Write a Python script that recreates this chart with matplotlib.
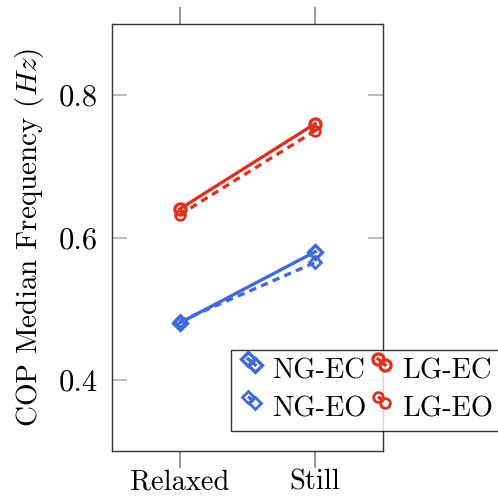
import matplotlib
matplotlib.use("Agg")
import matplotlib.pyplot as plt
from matplotlib.legend_handler import HandlerLine2D
import numpy as np

categories = ["Relaxed", "Still"]
ng_ec = [0.48, 0.58]
ng_eo = [0.482, 0.565]
lg_ec = [0.64, 0.76]
lg_eo = [0.632, 0.75]
yticks = [0.4, 0.6, 0.8]

plt.rcParams['font.family'] = ['cmr10', 'DejaVu Serif']
plt.rcParams['mathtext.fontset'] = 'cm'
plt.rcParams['axes.formatter.use_mathtext'] = True

blue = "#4169DC"
red = "#DC3220"


class SlantHandler(HandlerLine2D):
    def create_artists(self, legend, orig_handle, xdescent, ydescent, width,
                       height, fontsize, trans):
        arts = super().create_artists(legend, orig_handle, xdescent, ydescent,
                                      width, height, fontsize, trans)
        for a in arts:
            yd = np.asarray(a.get_ydata(), dtype=float)
            if len(yd) >= 2:
                a.set_ydata(np.linspace(height * 1.0, height * 0.7, len(yd)))
        return arts


fig = plt.figure(figsize=(4.98, 4.96), dpi=100)
ax = fig.add_axes([112/498, 1-451/496, (383-112)/498, (451-24)/496])
x = list(range(len(categories)))

ax.plot(x, ng_ec, color=blue, lw=2.4, marker='D', ms=7, mfc='none', mew=2.4, label='NG-EC')
ax.plot(x, ng_eo, color=blue, lw=2.4, ls=(0, (2.2, 1.6)), marker='D', ms=6, mfc='none', mew=2.0, label='NG-EO')
ax.plot(x, lg_ec, color=red, lw=2.4, marker='o', ms=8, mfc='none', mew=2.4, label='LG-EC')
ax.plot(x, lg_eo, color=red, lw=2.4, ls=(0, (2.2, 1.6)), marker='o', ms=7, mfc='none', mew=2.0, label='LG-EO')

ax.set_xlim(-0.5, 1.5)
ax.set_ylim(0.3, 0.9)
ax.set_xticks(x)
ax.set_xticklabels(categories)
ax.set_yticks(yticks)
ax.set_yticklabels([f"{v:.1f}" for v in yticks])
ax.tick_params(axis='x', direction='out', length=12, width=1.2, color='#888888',
               top=True, bottom=True, labelsize=20.5, pad=1)
ax.tick_params(axis='y', direction='in', length=11, width=1.2, color='#b0b0b0',
               left=True, right=True, labelsize=22, pad=10)
for s in ax.spines.values():
    s.set_linewidth(1.0)
    s.set_color('#333333')
ax.set_ylabel(r"COP Median Frequency $(Hz)$", fontsize=21, labelpad=9)

h, l = ax.get_legend_handles_labels()
leg = fig.legend(h, l, ncol=2,
                 loc='upper left', bbox_to_anchor=(231/498, 1-350/496),
                 numpoints=2, handlelength=0.85, handletextpad=0.3, columnspacing=0.1,
                 fontsize=20.5, frameon=True, fancybox=False, borderpad=0.3,
                 labelspacing=0.4, borderaxespad=0,
                 handler_map={plt.Line2D: SlantHandler()})
leg.get_frame().set_edgecolor('black')
leg.get_frame().set_linewidth(1.0)

fig.savefig("out.png", dpi=100)
